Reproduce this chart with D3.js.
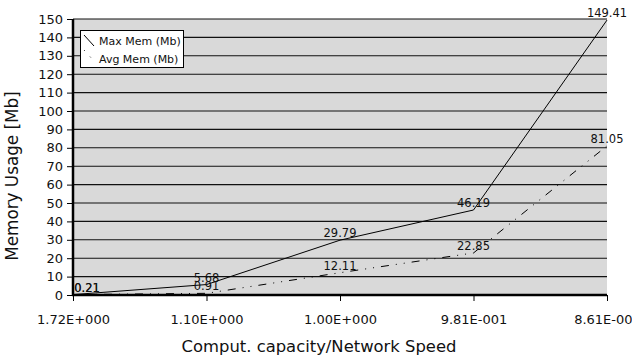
<!DOCTYPE html>
<html><head><meta charset="utf-8">
<script src="https://cdn.jsdelivr.net/npm/d3@7"></script>
<style>body{margin:0;background:#fff}svg{display:block;font-family:"DejaVu Sans",sans-serif}</style>
</head><body><svg id="c" width="632" height="360"></svg>
<script>
const categories = ["1.72E+000","1.10E+000","1.00E+000","9.81E-001","8.61E-001"];
const maxMem = [0.21, 5.68, 29.79, 46.19, 149.41];
const avgMem = [0.21, 0.91, 12.11, 22.85, 81.05];
const yTicks = d3.range(0, 151, 10);
const seriesNames = ["Max Mem (Mb)", "Avg Mem (Mb)"];

const svg = d3.select("#c");
const L = 73, R = 607, T = 19, B = 295;
const x = d3.scalePoint().domain(categories).range([L, R]);
const y = d3.scaleLinear().domain([0, 150]).range([B, T]);

svg.append("rect").attr("x", L).attr("y", T).attr("width", R - L).attr("height", B - T).attr("fill", "#d9d9d9");
svg.append("g").selectAll("line").data(yTicks.filter(d => d > 0)).join("line")
  .attr("x1", L).attr("x2", R).attr("y1", d => y(d)).attr("y2", d => y(d))
  .attr("stroke", "#111").attr("stroke-width", 1.1);

// y axis
const ya = svg.append("g").attr("transform", `translate(${L},0)`)
  .call(d3.axisLeft(y).tickValues(yTicks).tickSize(6).tickPadding(4));
ya.select(".domain").remove();
ya.selectAll(".tick line").attr("stroke", "#000").attr("stroke-width", 1);
ya.selectAll("text").attr("font-size", 13).attr("fill", "#111").attr("font-family", "DejaVu Sans");
svg.append("line").attr("x1", L).attr("x2", L).attr("y1", T).attr("y2", B + 1).attr("stroke", "#000").attr("stroke-width", 2.5);

// x axis
const xa = svg.append("g").attr("transform", `translate(0,${B})`)
  .call(d3.axisBottom(x).tickSize(6).tickPadding(14));
xa.select(".domain").remove();
xa.selectAll(".tick line").attr("stroke", "#000").attr("stroke-width", 1);
xa.selectAll("text").attr("font-size", 13).attr("fill", "#111").attr("font-family", "DejaVu Sans");
svg.append("line").attr("x1", L - 1).attr("x2", R).attr("y1", B).attr("y2", B).attr("stroke", "#000").attr("stroke-width", 2.5);

const line = d3.line().x((d, i) => x(categories[i])).y(d => y(d));
svg.append("path").datum(maxMem).attr("d", line).attr("fill", "none").attr("stroke", "#000").attr("stroke-width", 1);
svg.append("path").datum(avgMem).attr("d", line).attr("fill", "none").attr("stroke", "#000").attr("stroke-width", 1)
  .attr("stroke-dasharray", "8,7,1,7,1,7");

function labels(data) {
  svg.append("g").selectAll("text").data(data).join("text")
    .attr("x", (d, i) => Math.max(x(categories[i]), L + 14))
    .attr("y", d => y(d) - 3)
    .attr("text-anchor", "middle").attr("font-size", 11.5).attr("fill", "#111")
    .text(d => d.toFixed(2));
}
labels(maxMem);
labels(avgMem);

// titles
svg.append("text").attr("transform", `translate(18,176) rotate(-90)`).attr("text-anchor", "middle")
  .attr("font-size", 16.8).attr("fill", "#111").text("Memory Usage [Mb]");
svg.append("text").attr("x", 319).attr("y", 352).attr("text-anchor", "middle")
  .attr("font-size", 16.4).attr("fill", "#111").text("Comput. capacity/Network Speed");

// legend
const lg = svg.append("g");
lg.append("rect").attr("x", 80.5).attr("y", 30.5).attr("width", 103).attr("height", 37).attr("fill", "#fff").attr("stroke", "#000");
lg.append("line").attr("x1", 84).attr("y1", 35).attr("x2", 94).attr("y2", 46).attr("stroke", "#000");
lg.append("line").attr("x1", 84).attr("y1", 50).attr("x2", 94).attr("y2", 61).attr("stroke", "#000").attr("stroke-dasharray", "1,8");
lg.selectAll("text.l").data(seriesNames).join("text").attr("class", "l")
  .attr("x", 99).attr("y", (d, i) => 45 + i * 18).attr("font-size", 11).attr("fill", "#111").text(d => d);
</script></body></html>
